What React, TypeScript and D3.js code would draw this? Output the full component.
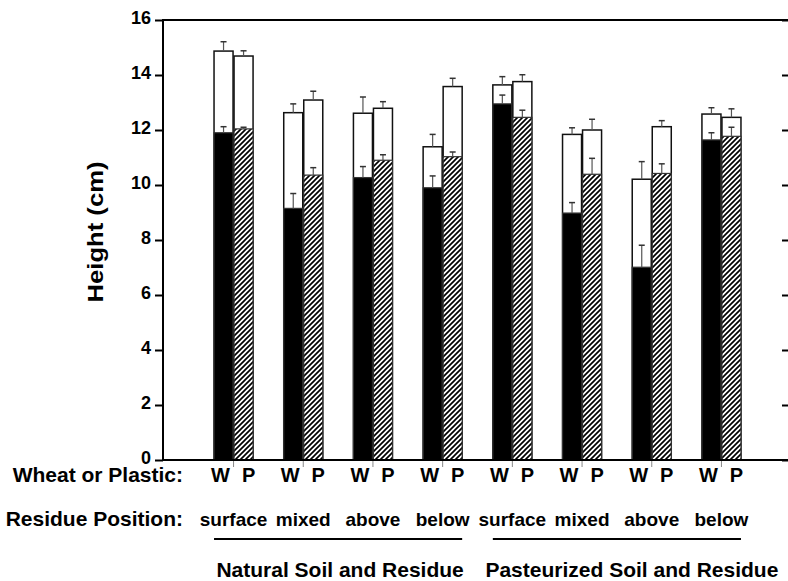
import React, { useEffect, useRef } from "react";
import * as d3 from "d3";

const positions = ["surface", "mixed", "above", "below", "surface", "mixed", "above", "below"];
const soils = ["Natural Soil and Residue", "Natural Soil and Residue", "Natural Soil and Residue", "Natural Soil and Residue",
  "Pasteurized Soil and Residue", "Pasteurized Soil and Residue", "Pasteurized Soil and Residue", "Pasteurized Soil and Residue"];
const soilGroups = ["Natural Soil and Residue", "Pasteurized Soil and Residue"];
const residueTypes = ["W", "P"];

const wheatLower = [11.9, 9.15, 10.27, 9.9, 12.95, 8.98, 7.01, 11.64];
const wheatLowerErr = [0.22, 0.54, 0.4, 0.43, 0.32, 0.38, 0.8, 0.26];
const wheatTotal = [14.87, 12.63, 12.61, 11.39, 13.64, 11.84, 10.21, 12.58];
const wheatTotalErr = [0.34, 0.32, 0.59, 0.45, 0.3, 0.24, 0.64, 0.23];
const plasticLower = [12.04, 10.36, 10.9, 11.03, 12.46, 10.39, 10.42, 11.77];
const plasticLowerErr = [0.06, 0.27, 0.2, 0.17, 0.26, 0.58, 0.35, 0.33];
const plasticTotal = [14.69, 13.09, 12.79, 13.58, 13.76, 12.0, 12.12, 12.46];
const plasticTotalErr = [0.19, 0.32, 0.24, 0.3, 0.25, 0.39, 0.22, 0.31];

const yTicks = [0, 2, 4, 6, 8, 10, 12, 14, 16];

const W = 788;
const H = 581;
const FONT = "'Liberation Sans', Arial, Helvetica, sans-serif";

export default function App() {
  const leftRef = useRef<SVGGElement>(null);
  const rightRef = useRef<SVGGElement>(null);

  const y = d3.scaleLinear().domain([0, 16]).range([460, 20]);
  const keys = positions.map((p, i) => `${i}-${p}`);
  const x = d3.scaleBand<string>().domain(keys).range([198.7, 756.3]).paddingInner(0.44).paddingOuter(0.22);
  const inner = d3.scaleBand<string>().domain(residueTypes).range([0, x.bandwidth()]).paddingInner(0.05);
  const bw = inner.bandwidth();

  useEffect(() => {
    if (leftRef.current) {
      const g = d3.select(leftRef.current);
      g.selectAll("*").remove();
      g.call(d3.axisLeft(y).tickValues(yTicks).tickSize(8).tickPadding(4).tickFormat(d3.format("d")) as any);
      g.select(".domain").remove();
      g.selectAll(".tick line").attr("stroke", "#000").attr("stroke-width", 2);
      g.selectAll(".tick text")
        .attr("font-family", FONT)
        .attr("font-weight", "bold")
        .attr("font-size", 18)
        .attr("dy", "0.22em")
        .attr("fill", "#000");
    }
    if (rightRef.current) {
      const g = d3.select(rightRef.current);
      g.selectAll("*").remove();
      g.call(d3.axisLeft(y).tickValues(yTicks).tickSize(7).tickFormat(() => "") as any);
      g.select(".domain").remove();
      g.selectAll(".tick line").attr("stroke", "#000").attr("stroke-width", 2);
    }
  });

  const series = [
    { type: "W", lower: wheatLower, lowerErr: wheatLowerErr, total: wheatTotal, totalErr: wheatTotalErr, fill: "#000" },
    { type: "P", lower: plasticLower, lowerErr: plasticLowerErr, total: plasticTotal, totalErr: plasticTotalErr, fill: "url(#hatch)" },
  ];

  const errBar = (cx: number, v: number, e: number, key: string) => (
    <g key={key}>
      <line x1={cx} x2={cx} y1={y(v)} y2={y(v + e)} stroke="#555" strokeWidth={1.2} />
      <line x1={cx - 3} x2={cx + 3} y1={y(v + e)} y2={y(v + e)} stroke="#333" strokeWidth={1.5} />
    </g>
  );

  const firstKey = (s: string) => keys[soils.indexOf(s)];
  const lastKey = (s: string) => keys[soils.lastIndexOf(s)];

  return (
    <svg width={W} height={H} style={{ position: "absolute", left: 0, top: 0, background: "#fff" }} fontFamily={FONT}>
      <defs>
        <pattern id="hatch" patternUnits="userSpaceOnUse" width={5} height={5}>
          <rect width={5} height={5} fill="#fff" />
          <path d="M-1,1 l2,-2 M0,5 l5,-5 M4,6 l2,-2" stroke="#000" strokeWidth={1.7} />
        </pattern>
      </defs>

      {/* bars */}
      {keys.map((k, i) => (
        <g key={k}>
          {series.map((s) => {
            const bx = (x(k) as number) + (inner(s.type) as number);
            const cx = bx + bw / 2;
            return (
              <g key={s.type}>
                <rect x={bx} y={y(s.total[i])} width={bw} height={y(0) - y(s.total[i])} fill="#fff" stroke="#111" strokeWidth={1.5} />
                <rect x={bx} y={y(s.lower[i])} width={bw} height={y(0) - y(s.lower[i])} fill={s.fill} stroke="#333" strokeWidth={1.2} />
                {errBar(cx, s.total[i], s.totalErr[i], "t")}
                {errBar(cx, s.lower[i], s.lowerErr[i], "l")}
              </g>
            );
          })}
          <line
            x1={(x(k) as number) + (inner("P") as number) - 0.5}
            x2={(x(k) as number) + (inner("P") as number) - 0.5}
            y1={460}
            y2={467}
            stroke="#888"
            strokeWidth={1}
          />
        </g>
      ))}

      {/* frame lines */}
      <line x1={163} x2={W} y1={y(16)} y2={y(16)} stroke="#000" strokeWidth={2} />
      <line x1={162} x2={W} y1={y(0)} y2={y(0)} stroke="#000" strokeWidth={2} />
      <line x1={163} x2={163} y1={y(16) - 1} y2={y(0) + 1} stroke="#000" strokeWidth={2} />
      <g ref={leftRef} transform="translate(163,0)" />
      <g ref={rightRef} transform="translate(789,0)" />

      {/* y title */}
      <text
        transform={`translate(103,${232}) rotate(-90)`}
        textAnchor="middle"
        fontWeight="bold"
        fontSize={22}
        textLength={141}
        lengthAdjust="spacingAndGlyphs"
      >
        Height (cm)
      </text>

      {/* row headers */}
      <text x={183} y={482} textAnchor="end" fontWeight="bold" fontSize={21}>Wheat or Plastic:</text>
      <text x={183} y={526} textAnchor="end" fontWeight="bold" fontSize={21}>Residue Position:</text>

      {/* W / P labels */}
      {keys.map((k) => (
        <g key={"wp" + k}>
          <text x={(x(k) as number) + (inner("W") as number) + bw / 2 - 3} y={482} textAnchor="middle" fontWeight="bold" fontSize={20}>W</text>
          <text x={(x(k) as number) + (inner("P") as number) + bw / 2 + 5} y={482} textAnchor="middle" fontWeight="bold" fontSize={20}>P</text>
        </g>
      ))}

      {/* residue positions */}
      {keys.map((k, i) => (
        <text key={"rp" + k} x={(x(k) as number) + x.bandwidth() / 2} y={526} textAnchor="middle" fontWeight="bold" fontSize={19}>
          {positions[i]}
        </text>
      ))}

      {/* soil groups */}
      {soilGroups.map((s, gi) => {
        const x1 = x(firstKey(s)) as number;
        const x2 = (x(lastKey(s)) as number) + x.bandwidth();
        const tx = gi === 0 ? (x1 + x2) / 2 + 2 : (x1 + x2) / 2 + 15;
        return (
          <g key={s}>
            <line x1={x1} x2={x2} y1={539} y2={539} stroke="#000" strokeWidth={2} />
            <text x={tx} y={577} textAnchor="middle" fontWeight="bold" fontSize={21}>{s}</text>
          </g>
        );
      })}
    </svg>
  );
}
